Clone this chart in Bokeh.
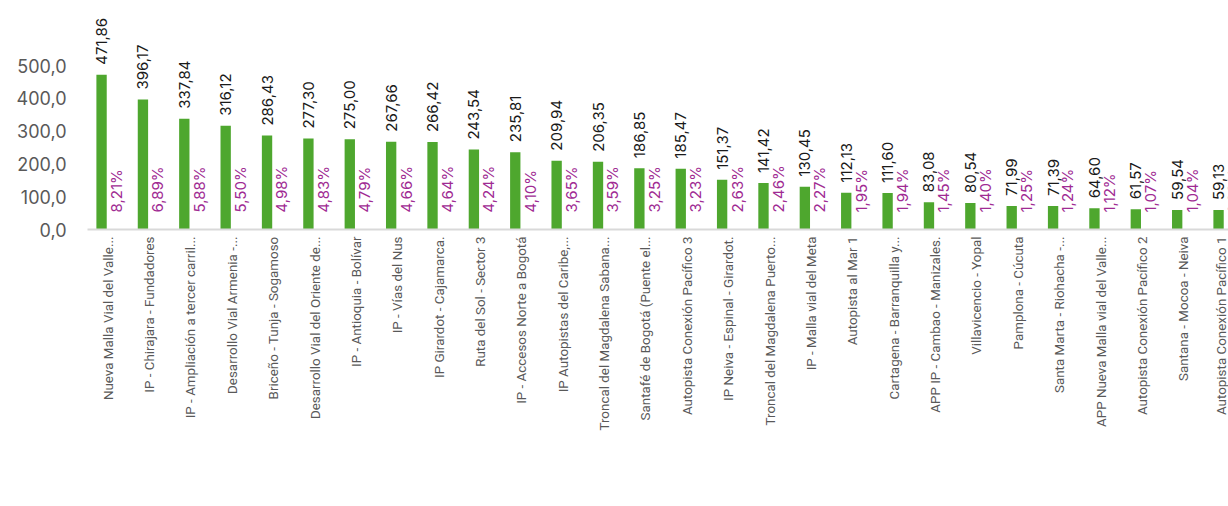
import math
from bokeh.plotting import figure
from bokeh.models import Range1d, FixedTicker, Legend, LegendItem, ColumnDataSource
from bokeh.core.properties import value
from bokeh.embed import file_html
from bokeh.resources import INLINE

categories = [
    "Nueva Malla Vial del Valle...",
    "IP - Chirajara - Fundadores",
    "IP - Ampliación a tercer carril...",
    "Desarrollo Vial Armenia -...",
    "Briceño - Tunja - Sogamoso",
    "Desarrollo Vial del Oriente de...",
    "IP - Antioquia - Bolívar",
    "IP - Vías del Nus",
    "IP Girardot - Cajamarca.",
    "Ruta del Sol - Sector 3",
    "IP - Accesos Norte a Bogotá",
    "IP Autopistas del Caribe,...",
    "Troncal del Magdalena Sabana...",
    "Santafé de Bogotá (Puente el...",
    "Autopista Conexión Pacífico 3",
    "IP Neiva - Espinal - Girardot.",
    "Troncal del Magdalena Puerto...",
    "IP - Malla vial del Meta",
    "Autopista al Mar 1",
    "Cartagena - Barranquilla y...",
    "APP IP - Cambao - Manizales.",
    "Villavicencio - Yopal",
    "Pamplona - Cúcuta",
    "Santa Marta - Riohacha -...",
    "APP Nueva Malla vial del Valle...",
    "Autopista Conexión Pacífico 2",
    "Santana - Mocoa - Neiva",
    "Autopista Conexión Pacífico 1",
]
recaudo = [471.86, 396.17, 337.84, 316.12, 286.43, 277.30, 275.00, 267.66, 266.42,
           243.54, 235.81, 209.94, 206.35, 186.85, 185.47, 151.37, 141.42, 130.45,
           112.13, 111.60, 83.08, 80.54, 71.99, 71.39, 64.60, 61.57, 59.54, 59.13]
part_pct = [8.21, 6.89, 5.88, 5.50, 4.98, 4.83, 4.79, 4.66, 4.64, 4.24, 4.10, 3.65,
            3.59, 3.25, 3.23, 2.63, 2.46, 2.27, 1.95, 1.94, 1.45, 1.40, 1.25, 1.24,
            1.12, 1.07, 1.04, 1.03]
y_ticks = [0, 100, 200, 300, 400, 500]

GREEN = "#4EA72E"
PURPLE = "#A02B93"
GRAY = "#595959"
FONT = "Inter"
CAT_FONT = "Roboto"

BORDER_L = 87
BORDER_T = 8
FRAME_W = 1228 - BORDER_L
FRAME_H = 221
Y_END = 673.8
CAT_PX = 41.37
n = len(categories)
x_end = -0.5 + FRAME_W / CAT_PX
px_to_y = Y_END / FRAME_H

def fmt(v, d):
    return f"{v:.{d}f}".replace(".", ",")

idx = list(range(n))
green_x = [i - 0.16 for i in idx]
part_x = [i + 0.10 for i in idx]
part_lab_x = [i + 0.20 for i in idx]

src = ColumnDataSource(dict(
    gx=green_x, px=part_x, plx=part_lab_x,
    rec=recaudo, part=[p / 100 for p in part_pct],
    rec_lab=[fmt(v, 2) for v in recaudo],
    part_lab=[fmt(v, 2) + "%" for v in part_pct],
    rec_y=[v + 10 * px_to_y for v in recaudo],
    part_y=[17 * px_to_y for _ in part_pct],
))

p = figure(frame_width=FRAME_W, frame_height=FRAME_H, output_backend="svg",
           toolbar_location=None,
           x_range=Range1d(-0.5, x_end), y_range=Range1d(0, Y_END),
           min_border_left=BORDER_L, min_border_right=0, min_border_top=BORDER_T,
           min_border_bottom=0)
p.outline_line_color = None
p.xgrid.visible = False
p.ygrid.visible = False
p.background_fill_color = "white"

r_green = p.vbar(x="gx", top="rec", width=0.25, bottom=0, source=src,
                 fill_color=GREEN, line_color=None)
r_part = p.vbar(x="px", top="part", width=0.25, bottom=0, source=src,
                fill_color=PURPLE, line_color=None)

p.text(x="gx", y="rec_y", text="rec_lab", source=src, angle=math.pi / 2,
       text_align="left", text_baseline="middle", text_color="#1a1a1a",
       text_font=value(FONT), text_font_size="15px")
p.text(x="plx", y="part_y", text="part_lab", source=src, angle=math.pi / 2,
       text_align="left", text_baseline="middle", text_color=PURPLE,
       text_font=value(FONT), text_font_size="15px")

# y axis
p.yaxis.ticker = FixedTicker(ticks=y_ticks)
p.yaxis.major_label_overrides = {t: fmt(t, 1) for t in y_ticks}
p.yaxis.axis_line_color = None
p.yaxis.major_tick_line_color = None
p.yaxis.minor_tick_line_color = None
p.yaxis.major_tick_out = 0
p.yaxis.major_tick_in = 0
p.yaxis.major_label_text_font = FONT
p.yaxis.major_label_text_font_size = "18px"
p.yaxis.major_label_text_color = GRAY
p.yaxis.major_label_standoff = 21

# x axis
p.xaxis.ticker = FixedTicker(ticks=idx)
p.xaxis.major_label_overrides = {i: c for i, c in enumerate(categories)}
p.xaxis.major_label_orientation = math.pi / 2
p.xaxis.axis_line_color = "#D9D9D9"
p.xaxis.axis_line_width = 2
p.xaxis.major_tick_line_color = None
p.xaxis.minor_tick_line_color = None
p.xaxis.major_tick_out = 0
p.xaxis.major_tick_in = 0
p.xaxis.major_label_text_font = CAT_FONT
p.xaxis.major_label_text_font_size = "13.4px"
p.xaxis.major_label_text_color = GRAY
p.xaxis.major_label_standoff = 7

legend = Legend(items=[LegendItem(label="Recaudo", renderers=[r_green]),
                       LegendItem(label="Part %", renderers=[r_part])],
                orientation="horizontal", location=(446, 0),
                label_text_font=FONT, label_text_font_size="20px",
                label_text_color=GRAY, glyph_width=14, glyph_height=14,
                label_standoff=6, spacing=22, border_line_color=None,
                background_fill_alpha=0, margin=0, padding=0)
p.add_layout(legend, "below")

open("out.html", "w").write(file_html(p, INLINE))
